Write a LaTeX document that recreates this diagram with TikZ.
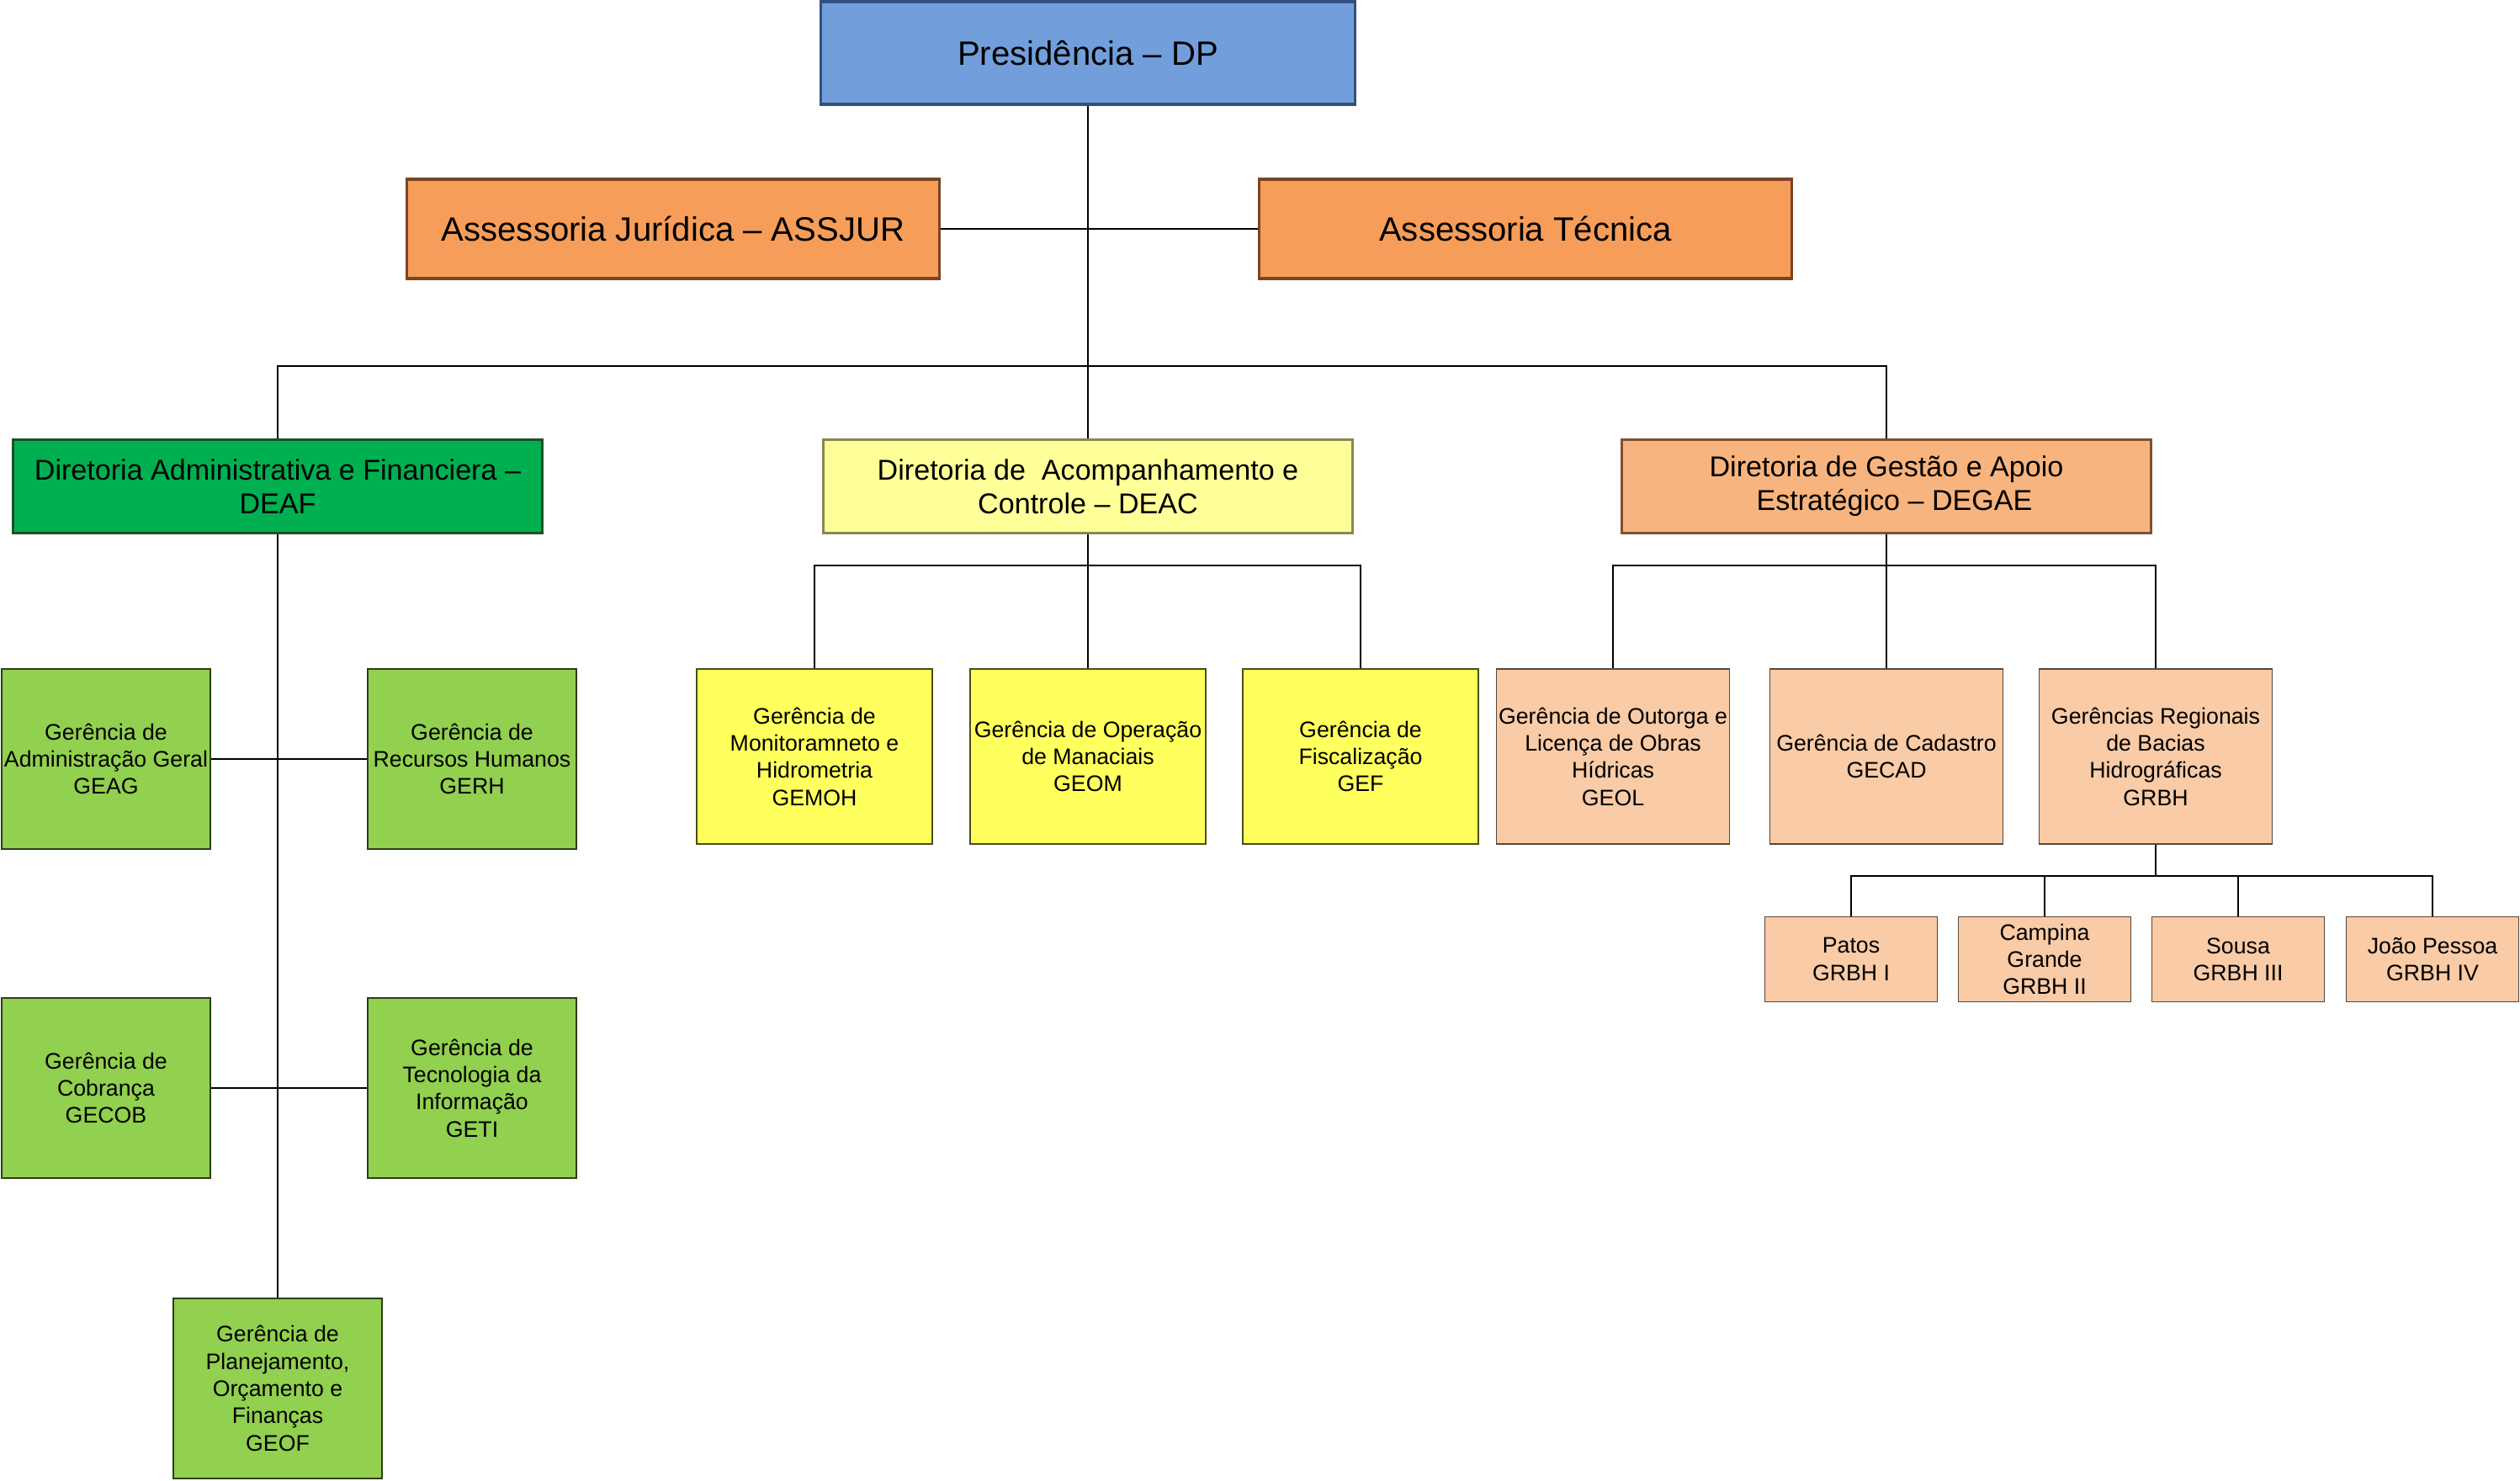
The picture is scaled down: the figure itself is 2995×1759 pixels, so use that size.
\documentclass[tikz,border=0pt]{standalone}
\usepackage{fontspec}
\setmainfont{Liberation Sans}
\usetikzlibrary{positioning}
\definecolor{presfill}{HTML}{729FDB}
\definecolor{presline}{HTML}{34507F}
\definecolor{assfill}{HTML}{F69D59}
\definecolor{assline}{HTML}{7A4522}
\definecolor{deaffill}{HTML}{00B050}
\definecolor{deafline}{HTML}{1D4F2C}
\definecolor{deacfill}{HTML}{FFFF99}
\definecolor{deacline}{HTML}{87874E}
\definecolor{degaefill}{HTML}{F7B47F}
\definecolor{degaeline}{HTML}{80502F}
\definecolor{gerverde}{HTML}{92D050}
\definecolor{geramarelo}{HTML}{FFFF5E}
\definecolor{gerpessego}{HTML}{F9CBA6}

\begin{document}
\begin{tikzpicture}[
  x=0.01cm,y=-0.01cm,
  unit/.style={draw, inner sep=0pt, align=center, text=black},
  top/.style={unit, line width=0.9pt, minimum width=6.33cm, minimum height=1.18cm,
              font=\fontsize{11.4}{13.7}\selectfont},
  dirbox/.style={unit, line width=0.9pt, minimum width=6.28cm, minimum height=1.11cm,
                 font=\fontsize{9.7}{11.4}\selectfont},
  gerbox/.style={unit, line width=0.4pt, font=\fontsize{7.6}{9.2}\selectfont},
  verde/.style={gerbox, fill=gerverde, draw=black!70!gerverde, minimum width=2.48cm, minimum height=2.14cm},
  amarelo/.style={gerbox, fill=geramarelo, draw=black!70!geramarelo, minimum width=2.80cm, minimum height=2.08cm},
  pessego/.style={gerbox, fill=gerpessego, draw=black!65!gerpessego, minimum width=2.77cm, minimum height=2.08cm},
  regional/.style={pessego, minimum width=2.05cm, minimum height=1.01cm},
  link/.style={draw=black, line width=0.6pt}
]
  \useasboundingbox (0,0) rectangle (2995,1759);

  \node[top, fill=presfill, draw=presline, minimum width=6.34cm, minimum height=1.22cm] (pres) at (1293,63) {Presidência -- DP};
  \node[top, fill=assfill, draw=assline] (assjur) at (800,272) {Assessoria Jurídica -- ASSJUR};
  \node[top, fill=assfill, draw=assline] (asstec) at (1813,272) {Assessoria Técnica};

  \node[dirbox, fill=deaffill, draw=deafline] (deaf) at (330,578) {Diretoria Administrativa e Financiera --\\DEAF};
  \node[dirbox, fill=deacfill, draw=deacline] (deac) at (1293,578) {Diretoria de~ Acompanhamento e\\Controle -- DEAC};
  \node[dirbox, fill=degaefill, draw=degaeline] (degae) at (2242,578) {Diretoria de Gestão e Apoio\\~~Estratégico -- DEGAE};

  \node[verde] (geag) at (126,902) {Gerência de\\Administração Geral\\GEAG};
  \node[verde] (gerh) at (561,902) {Gerência de\\Recursos Humanos\\GERH};
  \node[verde] (gecob) at (126,1293) {Gerência de\\Cobrança\\GECOB};
  \node[verde] (geti) at (561,1293) {Gerência de\\Tecnologia da\\Informação\\GETI};
  \node[verde] (geof) at (330,1650) {Gerência de\\Planejamento,\\Orçamento e\\Finanças\\GEOF};

  \node[amarelo] (gemoh) at (968,899) {Gerência de\\Monitoramneto e\\Hidrometria\\GEMOH};
  \node[amarelo] (geom) at (1293,899) {Gerência de Operação\\de Manaciais\\GEOM};
  \node[amarelo] (gef) at (1617,899) {Gerência de\\Fiscalização\\GEF};

  \node[pessego] (geol) at (1917,899) {Gerência de Outorga e\\Licença de Obras\\Hídricas\\GEOL};
  \node[pessego] (gecad) at (2242,899) {Gerência de Cadastro\\GECAD};
  \node[pessego] (grbh) at (2562,899) {Gerências Regionais\\de Bacias\\Hidrográficas\\GRBH};

  \node[regional] (patos) at (2200,1140) {Patos\\GRBH I};
  \node[regional] (campina) at (2430,1140) {Campina\\Grande\\GRBH II};
  \node[regional] (sousa) at (2660,1140) {Sousa\\GRBH III};
  \node[regional] (jpessoa) at (2891,1140) {João Pessoa\\GRBH IV};

  \coordinate (dirbus) at (1293,435);
  \coordinate (deacbus) at (1293,672);
  \coordinate (degaebus) at (2242,672);
  \coordinate (grbhbus) at (2562,1041);

  \draw[link] (pres.south) -- (deac.north);
  \draw[link] (assjur.east) -- (asstec.west);
  \draw[link] (deaf.north) |- (dirbus) -| (degae.north);

  \draw[link] (deaf.south) -- (geof.north);
  \draw[link] (geag.east) -- (gerh.west);
  \draw[link] (gecob.east) -- (geti.west);

  \draw[link] (deac.south) -- (geom.north);
  \draw[link] (gemoh.north) |- (deacbus) -| (gef.north);

  \draw[link] (degae.south) -- (gecad.north);
  \draw[link] (geol.north) |- (degaebus) -| (grbh.north);

  \draw[link] (grbh.south) -- (grbhbus);
  \draw[link] (patos.north) |- (grbhbus) -| (jpessoa.north);
  \draw[link] (campina.north) -- (campina.north |- grbhbus);
  \draw[link] (sousa.north) -- (sousa.north |- grbhbus);
\end{tikzpicture}
\end{document}
